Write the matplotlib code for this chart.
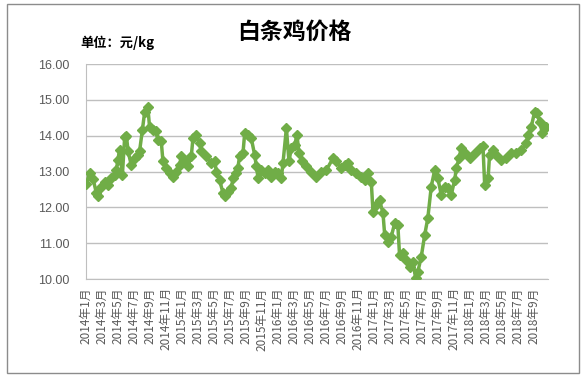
import matplotlib
matplotlib.use("Agg")
import matplotlib.pyplot as plt
from matplotlib.patches import Rectangle
import pandas as pd
import numpy as np

plt.rcParams['font.family'] = ['Noto Sans CJK SC', 'DejaVu Sans']

dates = [
    "2014-01-01","2014-01-12","2014-01-24","2014-02-08","2014-02-14","2014-02-25","2014-03-09","2014-03-19",
    "2014-04-04","2014-04-16","2014-04-22","2014-04-27","2014-05-05","2014-05-15","2014-05-23","2014-06-01",
    "2014-06-07","2014-06-18","2014-07-02","2014-07-13","2014-07-19","2014-08-01","2014-08-09","2014-08-20",
    "2014-08-26","2014-09-10","2014-09-22","2014-09-27","2014-10-11","2014-10-17","2014-11-01","2014-11-12",
    "2014-11-24","2014-12-08","2014-12-19","2014-12-25","2015-01-09","2015-01-20","2015-02-04","2015-02-10",
    "2015-02-22","2015-03-05","2015-03-11","2015-04-01","2015-04-18","2015-05-02","2015-05-08","2015-05-19",
    "2015-06-03","2015-06-09","2015-06-20","2015-07-04","2015-07-10","2015-07-22","2015-07-27","2015-08-05",
    "2015-08-17","2015-08-23","2015-09-07","2015-09-18","2015-10-02","2015-10-08","2015-10-14","2015-10-25",
    "2015-11-09","2015-11-20","2015-12-04","2015-12-16","2015-12-27","2016-01-11","2016-01-17","2016-02-01",
    "2016-02-10","2016-02-18","2016-03-02","2016-03-10","2016-03-17","2016-04-01","2016-04-12","2016-05-04",
    "2016-05-22","2016-06-11","2016-07-01","2016-07-24","2016-08-08","2016-08-25","2016-09-09","2016-09-20",
    "2016-10-04","2016-10-22","2016-11-11","2016-11-23","2016-12-07","2016-12-18","2016-12-24","2017-01-08",
    "2017-01-19","2017-02-03","2017-02-09","2017-02-20","2017-03-04","2017-03-16","2017-03-27","2017-04-05",
    "2017-04-17","2017-05-01","2017-05-12","2017-05-24","2017-06-05","2017-06-13","2017-06-25","2017-07-09",
    "2017-07-20","2017-08-04","2017-08-16","2017-08-27","2017-09-11","2017-09-23","2017-10-07","2017-10-18",
    "2017-11-02","2017-11-08","2017-11-17","2017-11-25","2017-12-09","2017-12-26","2018-01-16","2018-02-05",
    "2018-02-17","2018-02-23","2018-03-07","2018-03-12","2018-03-24","2018-04-08","2018-04-25","2018-05-15",
    "2018-06-04","2018-06-22","2018-07-11","2018-08-01","2018-08-07","2018-08-18","2018-09-02","2018-09-10",
    "2018-09-19","2018-10-01","2018-10-15",
]
prices = [
    12.65,12.97,12.80,12.40,12.32,12.58,12.72,12.62,
    12.81,12.90,13.04,13.32,13.60,12.90,13.97,14.00,
    13.56,13.18,13.37,13.46,13.56,14.16,14.67,14.80,
    14.25,14.16,14.12,13.88,13.84,13.28,13.09,12.95,
    12.86,13.00,13.18,13.42,13.28,13.14,13.42,13.93,
    14.02,13.79,13.56,13.42,13.23,13.28,13.00,12.77,
    12.40,12.32,12.44,12.53,12.81,12.95,13.09,13.42,
    13.51,14.07,14.02,13.93,13.46,13.14,12.81,13.04,
    12.95,13.04,12.86,13.00,12.95,12.81,13.23,14.21,
    13.28,13.65,13.74,14.02,13.51,13.28,13.14,13.00,
    12.86,13.00,13.04,13.37,13.28,13.09,13.18,13.23,
    13.04,12.95,12.86,12.77,12.95,12.72,11.88,12.07,
    12.20,11.84,11.23,11.04,11.18,11.56,11.51,10.67,
    10.72,10.53,10.34,10.48,10.04,10.20,10.62,11.23,
    11.70,12.58,13.04,12.81,12.35,12.58,12.53,12.35,
    12.77,13.09,13.37,13.65,13.51,13.37,13.51,13.65,
    13.70,12.62,12.81,13.46,13.60,13.46,13.32,13.37,
    13.51,13.51,13.60,13.79,14.02,14.25,14.67,14.62,
    14.39,14.07,14.25,
]

tick_labels = [f"{y}年{m}月" for y in range(2014, 2019) for m in range(1, 13, 2) if not (y == 2018 and m > 9)]
y_ticks = [10, 11, 12, 13, 14, 15, 16]

d = pd.to_datetime(dates)
xm = (d.year - 2014) * 12 + (d.month - 1) + (d.day - 1) / 28.0

fig = plt.figure(figsize=(5.86, 3.81), dpi=100)
fig.patches.append(Rectangle((7/586, 1-373/381), 572/586, 369/381, transform=fig.transFigure,
                             fill=False, edgecolor='#8c8c8c', linewidth=1.0))
ax = fig.add_axes([86/586, 1-279/381, (548-86)/586, (279-64)/381])

ax.plot(xm, prices, color='#70AD47', linewidth=2.5, marker='D', markersize=4.6,
        markerfacecolor='#70AD47', markeredgecolor='#70AD47', zorder=3)

ax.set_ylim(10, 16)
ax.set_yticks(y_ticks)
ax.set_yticklabels([f"{v:.2f}" for v in y_ticks], fontfamily='Liberation Sans', fontsize=9, color='#595959')
ax.set_xlim(-0.05, 57.7)
ax.set_xticks(list(range(0, 2 * len(tick_labels), 2)))
ax.set_xticklabels(tick_labels, rotation=90, fontsize=8.5, color='#595959')
ax.tick_params(axis='both', length=0)
ax.tick_params(axis='y', pad=12)
ax.tick_params(axis='x', pad=6)
ax.grid(axis='y', color='#bfbfbf', linewidth=1.0)
ax.set_axisbelow(True)
for s in ['top', 'right']:
    ax.spines[s].set_visible(False)
ax.spines['left'].set_color('#bfbfbf')
ax.spines['bottom'].set_color('#bfbfbf')

fig.text(294/586, 1-32/381, "白条鸡价格", ha='center', va='center', fontsize=16.5, fontweight='bold', color='black')
fig.text(80/586, 1-43/381, "单位：元/kg", ha='left', va='center', fontsize=9.5, fontweight='bold', color='black')

fig.savefig("out.png", dpi=100)
